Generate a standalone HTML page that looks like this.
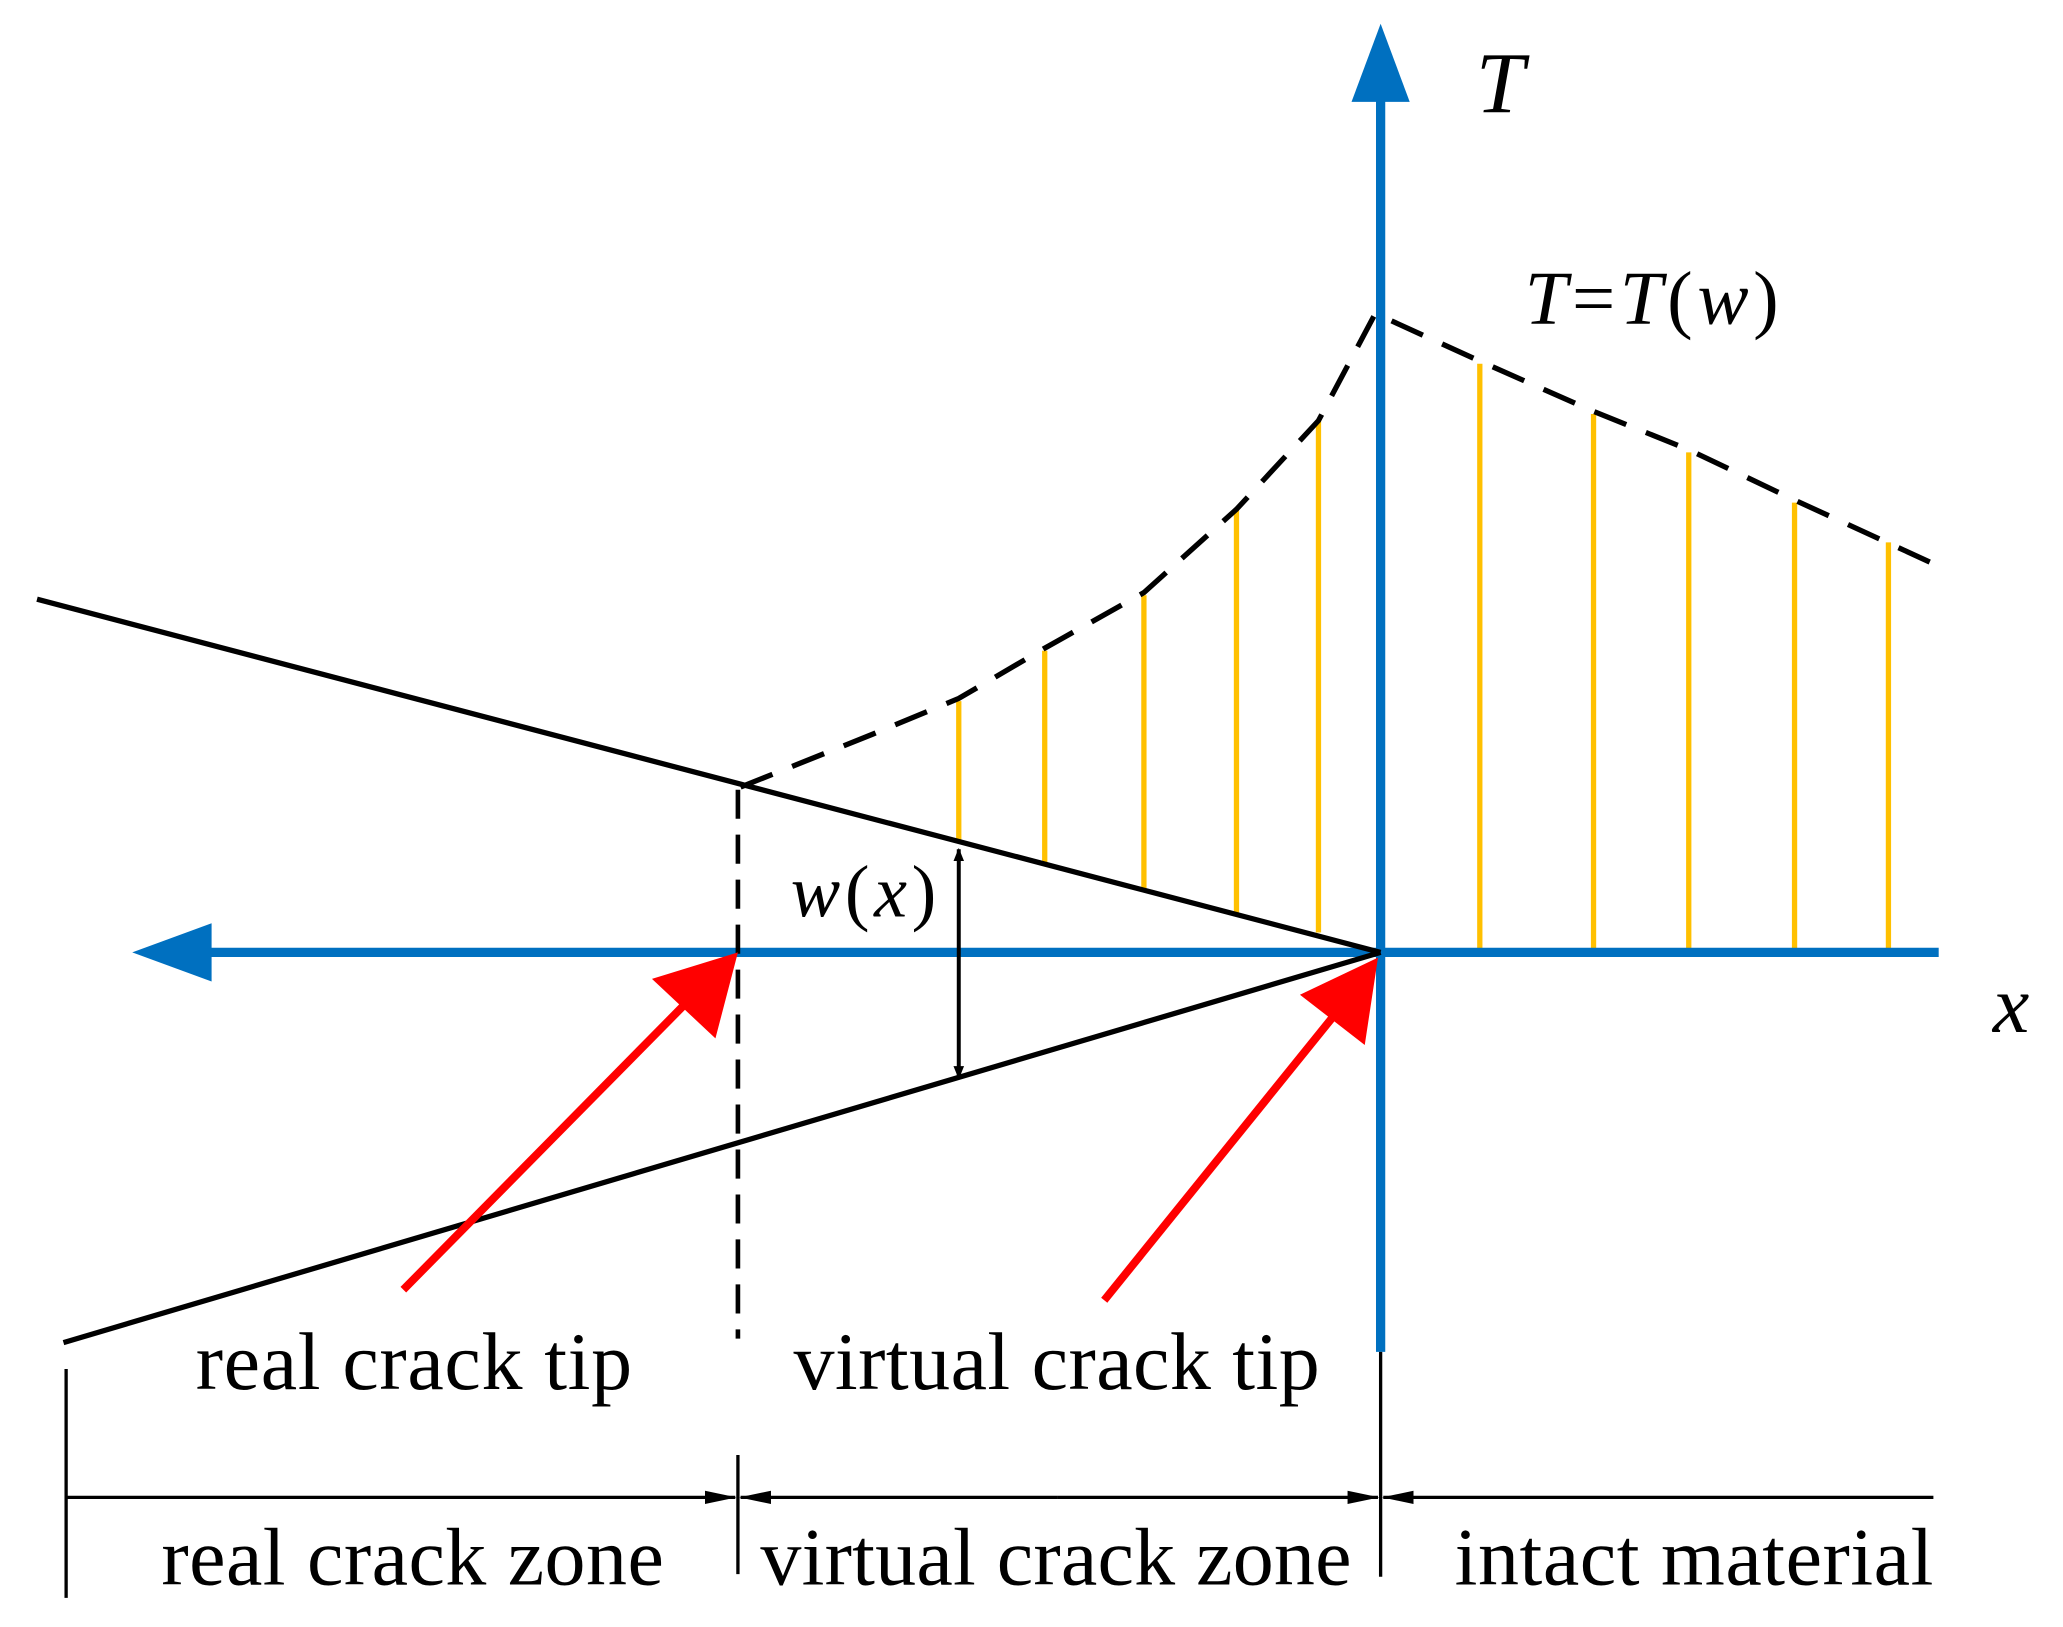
<!DOCTYPE html>
<html><head><meta charset="utf-8"><style>
html,body{margin:0;padding:0;background:#fff;}
svg{display:block;}
text{font-family:"Liberation Serif",serif;fill:#000;}
</style></head><body>
<svg id="fig" width="2063" height="1627" viewBox="0 0 1560 1230" preserveAspectRatio="none" xmlns="http://www.w3.org/2000/svg">
<defs>
<marker id="ah" markerWidth="10" markerHeight="10" refX="9" refY="5" orient="auto" markerUnits="userSpaceOnUse"><path d="M0,1 L10,5 L0,9 Z" fill="#000"/></marker>
<marker id="ahl" markerWidth="24" markerHeight="14" refX="23" refY="7" orient="auto" markerUnits="userSpaceOnUse"><path d="M0,2 L24,7 L0,12 Z" fill="#000"/></marker>
</defs>
<g id="yellow"></g>
<line x1="150" y1="720" x2="1466" y2="720" stroke="#0070C0" stroke-width="7"/>
<polygon points="100,720 160,698 160,742" fill="#0070C0"/>
<line x1="1044" y1="70" x2="1044" y2="1022" stroke="#0070C0" stroke-width="7"/>
<polygon points="1044,18 1022,77 1066,77" fill="#0070C0"/>
<line x1="28" y1="453" x2="1044" y2="720" stroke="#000" stroke-width="4"/>
<line x1="48" y1="1015" x2="1044" y2="720" stroke="#000" stroke-width="4"/>
<line x1="558" y1="597" x2="558" y2="1012" stroke="#000" stroke-width="3.5" stroke-dasharray="22,12"/>
<path id="curve" fill="none" stroke="#000" stroke-width="4" stroke-dasharray="26,16"/>
<line x1="725" y1="728" x2="725" y2="642" stroke="#000" stroke-width="3" marker-end="url(#ah)"/>
<line x1="725" y1="728" x2="725" y2="815" stroke="#000" stroke-width="3" marker-end="url(#ah)"/>
<line x1="305" y1="975" x2="525" y2="752" stroke="#ff0000" stroke-width="6"/>
<polygon points="558,720 541,785 493,740" fill="#ff0000"/>
<line x1="835" y1="983" x2="1015" y2="760" stroke="#ff0000" stroke-width="6"/>
<polygon points="1042,724 1032,790 983,752" fill="#ff0000"/>
<line x1="50" y1="1035" x2="50" y2="1208" stroke="#000" stroke-width="2.5"/>
<line x1="558" y1="1100" x2="558" y2="1190" stroke="#000" stroke-width="2.5"/>
<line x1="1044" y1="1022" x2="1044" y2="1192" stroke="#000" stroke-width="2.5"/>
<line x1="50" y1="1132" x2="556" y2="1132" stroke="#000" stroke-width="2.5" marker-end="url(#ahl)"/>
<line x1="800" y1="1132" x2="560" y2="1132" stroke="#000" stroke-width="2.5" marker-end="url(#ahl)"/>
<line x1="800" y1="1132" x2="1042" y2="1132" stroke="#000" stroke-width="2.5" marker-end="url(#ahl)"/>
<line x1="1462" y1="1132" x2="1046" y2="1132" stroke="#000" stroke-width="2.5" marker-end="url(#ahl)"/>
<text x="1116" y="85" font-size="66" font-style="italic">T</text>
<text x="1153" y="245" font-size="58" textLength="192"><tspan font-style="italic">T</tspan>=<tspan font-style="italic">T</tspan>(<tspan font-style="italic">w</tspan>)</text>
<text x="598" y="693" font-size="56" textLength="110"><tspan font-style="italic">w</tspan>(<tspan font-style="italic">x</tspan>)</text>
<text x="1507" y="780" font-size="62" font-style="italic">x</text>
<text x="148" y="1050" font-size="62" textLength="330">real crack tip</text>
<text x="600" y="1050" font-size="62" textLength="398">virtual crack tip</text>
<text x="122" y="1198" font-size="62" textLength="380">real crack zone</text>
<text x="575" y="1198" font-size="62" textLength="447">virtual crack zone</text>
<text x="1100" y="1198" font-size="62" textLength="362">intact material</text>
</svg>
<script>
const lineX = [725, 790, 865, 935, 997, 1119, 1205, 1277, 1357, 1428];
const lineTop = [530, 492, 450, 385, 318, 275, 313, 342, 380, 410];
const lineBottom = [635, 652, 672, 690, 705, 718, 718, 718, 718, 718];
const curveX = [560, 660, 725, 790, 865, 935, 997, 1040, 1119, 1205, 1277, 1357, 1466];
const curveY = [595, 555, 528, 490, 448, 385, 318, 237, 273, 311, 340, 378, 428];
const ns = "http://www.w3.org/2000/svg";
const g = document.getElementById("yellow");
lineX.forEach((x, i) => {
  const l = document.createElementNS(ns, "line");
  l.setAttribute("x1", x); l.setAttribute("x2", x);
  l.setAttribute("y1", lineTop[i]); l.setAttribute("y2", lineBottom[i]);
  l.setAttribute("stroke", "#FFC000"); l.setAttribute("stroke-width", "4");
  
  
  g.appendChild(l);
});
document.getElementById("curve").setAttribute("d",
  curveX.map((x, i) => (i ? "L" : "M") + x + "," + curveY[i]).join(" "));
</script>
</body></html>
